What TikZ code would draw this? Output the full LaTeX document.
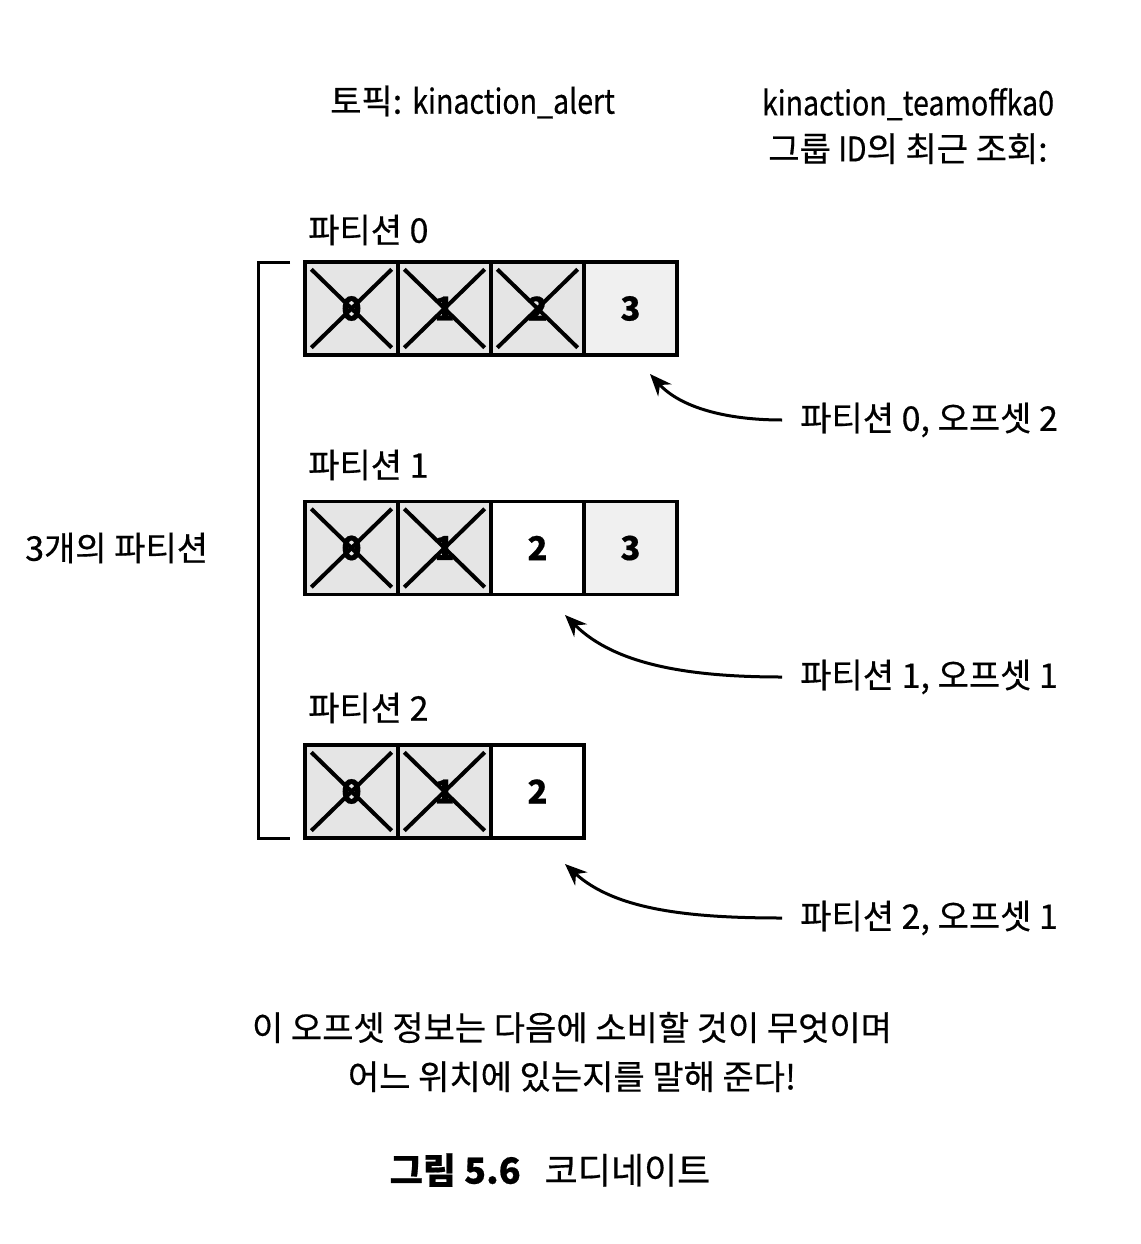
\documentclass[tikz,border=0pt]{standalone}
\usepackage{fontspec}
\setmainfont{Noto Sans CJK KR}[FakeBold=0.5]
\newfontfamily\narrowlat{Noto Sans CJK KR}[FakeStretch=0.84,FakeBold=0.5]
\usetikzlibrary{arrows.meta}
\newcommand\lblfont{\fontsize{34}{40}\selectfont}
\newcommand\digfont{\fontsize{33}{38}\selectfont\bfseries}
\newcommand\lat[1]{{\narrowlat #1}}
\tikzset{
  cell/.style={draw, line width=3.4pt, minimum width=93pt, minimum height=93pt, inner sep=0pt, font=\digfont},
  used/.style={cell, fill=black!10},
  lightcell/.style={cell, fill=black!6},
  crossline/.style={line width=4pt},
  lbl/.style={inner sep=0pt, font=\lblfont},
  pointer/.style={line width=3pt, -{Stealth[length=22pt,width=18pt]}},
  bracketline/.style={line width=3pt},
}
\begin{document}
\begin{tikzpicture}[x=1pt,y=-1pt]
\useasboundingbox (0,0) rectangle (1140,1244);
% titles
\node[lbl, anchor=west] (topic) at (330,102) {토픽: \lat{kinaction\_alert}};
\node[lbl, align=center] (group) at (908,126) {\lat{kinaction\_teamoffka0}\\[6pt]그룹 \lat{ID}의 최근 조회:};
% partition labels
\node[lbl, anchor=west] (pl0) at (308,230) {파티션 0};
\node[lbl, anchor=west] (pl1) at (308,465) {파티션 1};
\node[lbl, anchor=west] (pl2) at (308,708) {파티션 2};
\node[lbl, anchor=west] (three) at (25,548) {3개의 파티션};
% partition 0
\node[used] (a0) at (351.5,308.5) {0};
\node[used] (a1) at (444.5,308.5) {1};
\node[used] (a2) at (537.5,308.5) {2};
\node[lightcell] (a3) at (630.5,308.5) {3};
% partition 1
\node[used] (b0) at (351.5,548) {0};
\node[used] (b1) at (444.5,548) {1};
\node[cell] (b2) at (537.5,548) {2};
\node[lightcell] (b3) at (630.5,548) {3};
% partition 2
\node[used] (c0) at (351.5,791.5) {0};
\node[used] (c1) at (444.5,791.5) {1};
\node[cell] (c2) at (537.5,791.5) {2};
% crosses
\foreach \n in {a0,a1,a2,b0,b1,c0,c1}{
  \draw[crossline] ([shift={(8,9)}]\n.north west) -- ([shift={(-8,-9)}]\n.south east);
  \draw[crossline] ([shift={(-8,9)}]\n.north east) -- ([shift={(8,-9)}]\n.south west);
}
% bracket
\draw[bracketline] (290,262) -- (258,262) -- (258,838) -- (290,838);
% offset labels and arrows
\node[lbl, anchor=west] (o0) at (800,420) {파티션 0, 오프셋 2};
\node[lbl, anchor=west] (o1) at (800,677) {파티션 1, 오프셋 1};
\node[lbl, anchor=west] (o2) at (800,918) {파티션 2, 오프셋 1};
\coordinate (t0) at (650,374);
\coordinate (t1) at (565,615);
\coordinate (t2) at (565,864);
\draw[pointer] ([xshift=-18pt]o0.west) .. controls (725,420) and (680,407) .. (t0);
\draw[pointer] ([xshift=-18pt]o1.west) .. controls (690,677) and (615,665) .. (t1);
\draw[pointer] ([xshift=-18pt]o2.west) .. controls (690,918) and (615,910) .. (t2);
% bottom note
\node[lbl, align=center, font=\fontsize{34}{49}\selectfont] (note) at (572,1052) {이 오프셋 정보는 다음에 소비할 것이 무엇이며\\어느 위치에 있는지를 말해 준다!};
% caption
\node[inner sep=0pt, font=\fontsize{36}{40}\selectfont] (cap) at (550,1170) {\textbf{그림 5.6}\hspace{24pt}코디네이트};
\end{tikzpicture}
\end{document}
